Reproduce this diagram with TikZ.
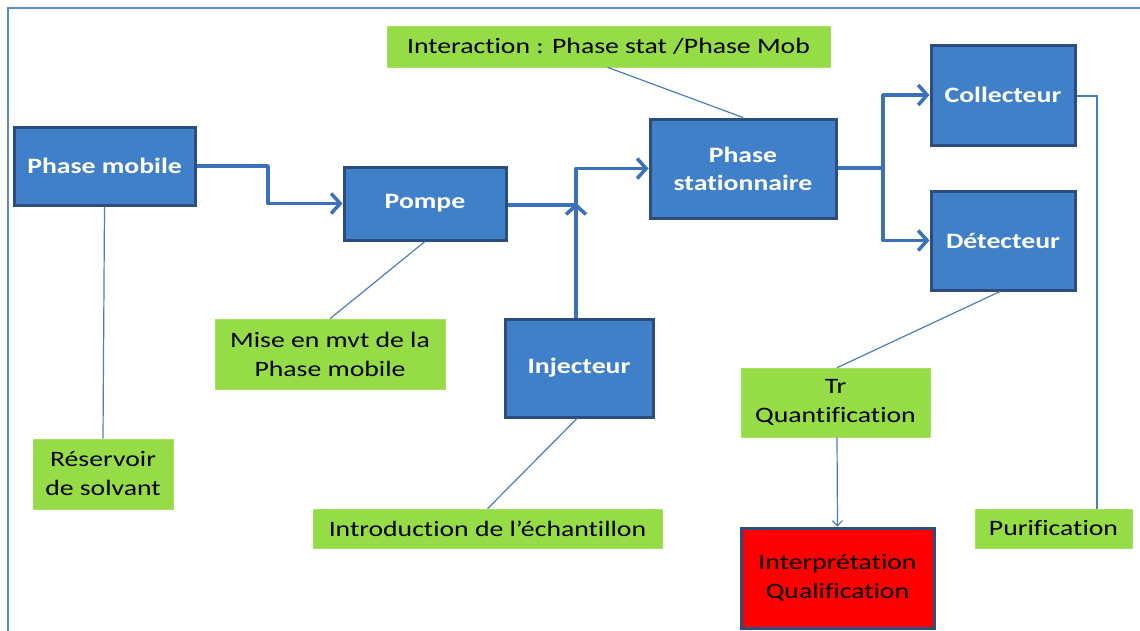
\documentclass[tikz,border=0pt]{standalone}
\usepackage{fontspec}
\setmainfont{Carlito}
\newfontfamily\wideface[FakeStretch=1.26,Ligatures=NoCommon]{Carlito}
\usetikzlibrary{arrows.meta}
\definecolor{boxblue}{HTML}{4080C8}
\definecolor{boxedge}{HTML}{2C4D7E}
\definecolor{flowblue}{HTML}{3A70BC}
\definecolor{thinblue}{HTML}{4A7EBB}
\definecolor{notegreen}{HTML}{96DC46}
\definecolor{framecol}{HTML}{5B8ACB}
\tikzset{
  stage/.style={draw=boxedge, line width=3pt, fill=boxblue, text=white,
    font=\wideface\bfseries\fontsize{22}{28}\selectfont, align=center,
    inner sep=0pt},
  note/.style={fill=notegreen, draw=notegreen!85!white, line width=0.6pt, text=black,
    font=\wideface\fontsize{22}{29}\selectfont, align=center, inner sep=0pt},
  result/.style={draw=boxedge, line width=3pt, fill=red, text=black,
    font=\wideface\fontsize{22}{29}\selectfont, align=center, inner sep=0pt},
  flow/.style={draw=flowblue, line width=3.5pt, line join=round,
    -{Straight Barb[length=9pt,width=20pt,line width=3.5pt]}},
  pipe/.style={draw=flowblue, line width=3.5pt, line join=round},
  link/.style={draw=thinblue, line width=1.2pt},
  linkarrow/.style={link, -{Straight Barb[length=5pt,width=10pt,line width=1.2pt]}}
}
\begin{document}
\begin{tikzpicture}[x=1pt, y=-1pt]
\useasboundingbox (0,0) rectangle (1140,630);
\fill[white] (0,0) rectangle (1140,630);
% outer frame (runs off the right and bottom edges)
\draw[framecol, line width=2pt] (1142,8) -- (8,8) -- (8,632);

% process stages
\node[stage, minimum width=181pt, minimum height=78pt] (mob) at (104.5,166) {Phase mobile};
\node[stage, minimum width=162pt, minimum height=73pt] (pump) at (425,203.5) {Pompe};
\node[stage, minimum width=186pt, minimum height=99pt] (stat) at (743,168.5) {Phase\\stationnaire};
\node[stage, minimum width=144pt, minimum height=100pt] (coll) at (1003,95) {Collecteur};
\node[stage, minimum width=144pt, minimum height=99pt] (det) at (1003,240.5) {Détecteur};
\node[stage, minimum width=148pt, minimum height=98pt] (inj) at (579,368) {Injecteur};

% annotations
\node[note, minimum width=443pt, minimum height=41pt] (inter) at (608.5,46.5) {Interaction : Phase stat /Phase Mob};
\node[note, minimum width=230pt, minimum height=70pt] (mise) at (330,354) {Mise en mvt de la\\Phase mobile};
\node[note, minimum width=140pt, minimum height=70pt] (res) at (103,474) {Réservoir\\de solvant};
\node[note, minimum width=349pt, minimum height=39pt] (intro) at (487.5,528.5) {Introduction de l’échantillon};
\node[note, minimum width=189pt, minimum height=69pt] (tr) at (835.5,402.5) {Tr\\Quantification};
\node[note, minimum width=157pt, minimum height=39pt] (puri) at (1053.5,528.5) {Purification};
\node[result, minimum width=193pt, minimum height=100pt] (interp) at (837.5,578) {Interprétation\\Qualification};

% junction points of the flow lines
\coordinate (j1) at (268,166);
\coordinate (j2) at (576,205);
\coordinate (j3) at (883,168);
\coordinate (j4) at (1097,96);

% main flow
\draw[flow] (mob.east |- 0,166) -- (j1) -- (j1 |- pump.west) -- (pump.west);
\draw[pipe] (pump.east |- j2) -- (j2);
\draw[flow] (j2) -- (j2 |- stat.west) -- (stat.west);
\draw[flow] (inj.north -| j2) -- ([yshift=2pt]j2);
\draw[pipe] (stat.east |- j3) -- (j3);
\draw[flow] (j3) -- (j3 |- coll.west) -- (coll.west);
\draw[flow] (j3) -- (j3 |- det.west) -- (det.west);

% annotation links
\draw[link] (mob.south) -- (res.north);
\draw[link] (pump.south) -- (mise.north);
\draw[link] ([xshift=-1pt]inter.south) -- (stat.north);
\draw[link] ([xshift=-2pt]inj.south) -- (intro.north);
\draw[link] ([xshift=-3pt]det.south) -- ([xshift=1.5pt]tr.north);
\draw[linkarrow] ([xshift=1.5pt]tr.south) -- (interp.north);
\draw[link] (coll.east |- j4) -- (j4) -- (j4 |- puri.north);
\end{tikzpicture}
\end{document}
